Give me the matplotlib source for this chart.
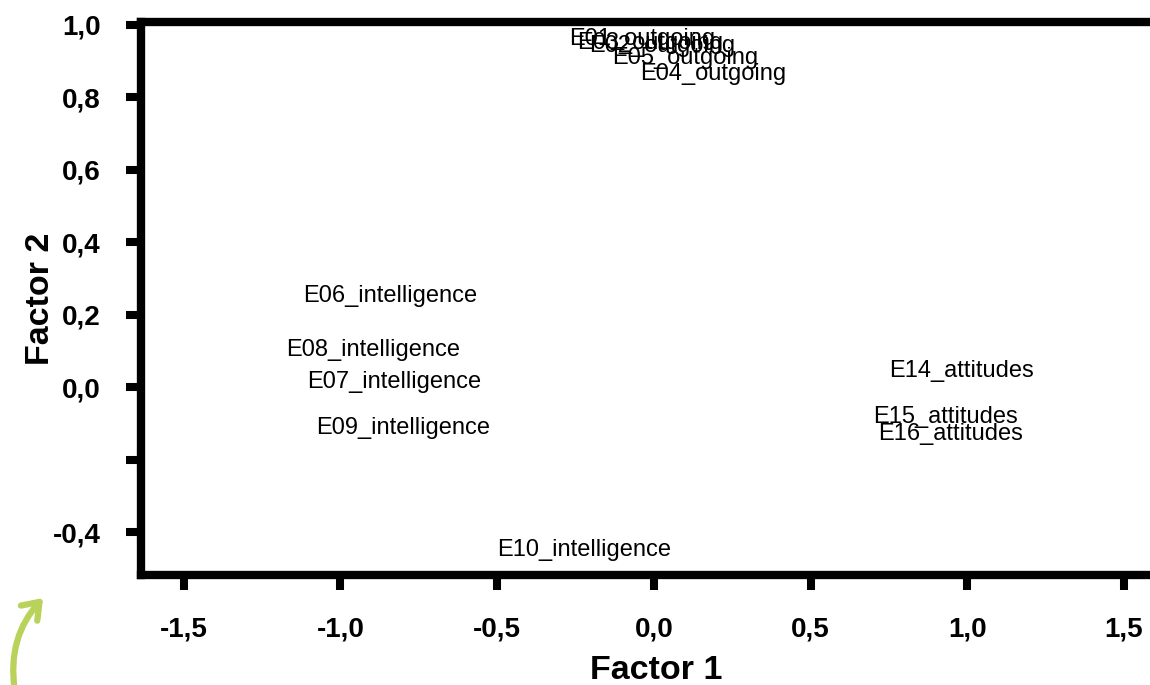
import matplotlib.pyplot as plt
from matplotlib.patches import FancyArrowPatch

# нагрузки факторов (чтение с картинки)
items = ['E01_outgoing', 'E03_outgoing', 'E02_outgoing', 'E05_outgoing', 'E04_outgoing',
         'E06_intelligence', 'E08_intelligence', 'E07_intelligence', 'E09_intelligence',
         'E10_intelligence', 'E14_attitudes', 'E15_attitudes', 'E16_attitudes']
factor1 = [-0.037, -0.012, 0.026, 0.10, 0.188,
           -0.842, -0.896, -0.829, -0.80,
           -0.223, 0.98, 0.93, 0.947]
factor2 = [0.961, 0.950, 0.942, 0.909, 0.865,
           0.253, 0.102, 0.014, -0.113,
           -0.449, 0.044, -0.083, -0.129]

xticks = [-1.5, -1.0, -0.5, 0.0, 0.5, 1.0, 1.5]
xlabels = ['-1,5', '-1,0', '-0,5', '0,0', '0,5', '1,0', '1,5']
yticks = [-0.4, -0.2, 0.0, 0.2, 0.4, 0.6, 0.8, 1.0]
ylabels = ['-0,4', '', '0,0', '0,2', '0,4', '0,6', '0,8', '1,0']

fig = plt.figure(figsize=(11.5, 6.85), dpi=100)
ax = fig.add_axes([0.1226, 0.1606, 0.8957, 0.8073])

for name, fx, fy in zip(items, factor1, factor2):
    ax.text(fx, fy, name, ha='center', va='center', fontsize=17,
            family='Liberation Sans', color='black')

ax.set_xlim(-1.636, 1.65)
ax.set_ylim(-0.518, 1.008)
ax.set_xticks(xticks)
ax.set_xticklabels(xlabels)
ax.set_yticks(yticks)
ax.set_yticklabels(ylabels)

for lab in ax.get_xticklabels() + ax.get_yticklabels():
    lab.set_family('Liberation Sans')
    lab.set_fontweight('bold')
    lab.set_fontsize(20)

ax.tick_params(width=5.8, length=11, color='black')
ax.tick_params(axis='x', pad=19)
ax.tick_params(axis='y', pad=18)
ax.spines['right'].set_visible(False)
for s in ['left', 'bottom', 'top']:
    ax.spines[s].set_linewidth(6)

ax.set_xlabel('Factor 1', family='Liberation Sans', fontweight='bold', fontsize=24.5, labelpad=9)
ax.set_ylabel('Factor 2', family='Liberation Sans', fontweight='bold', fontsize=24.5, labelpad=-2)

# зелёная стрелка в углу
arrow = FancyArrowPatch((15 / 1150, -0.01), (45 / 1150, 89 / 685),
                        transform=fig.transFigure, connectionstyle='arc3,rad=-0.25',
                        arrowstyle='->,head_length=11,head_width=8',
                        color='#b8d25a', linewidth=4.5, mutation_scale=1)
fig.patches.append(arrow)

fig.savefig('out.png', dpi=100)
